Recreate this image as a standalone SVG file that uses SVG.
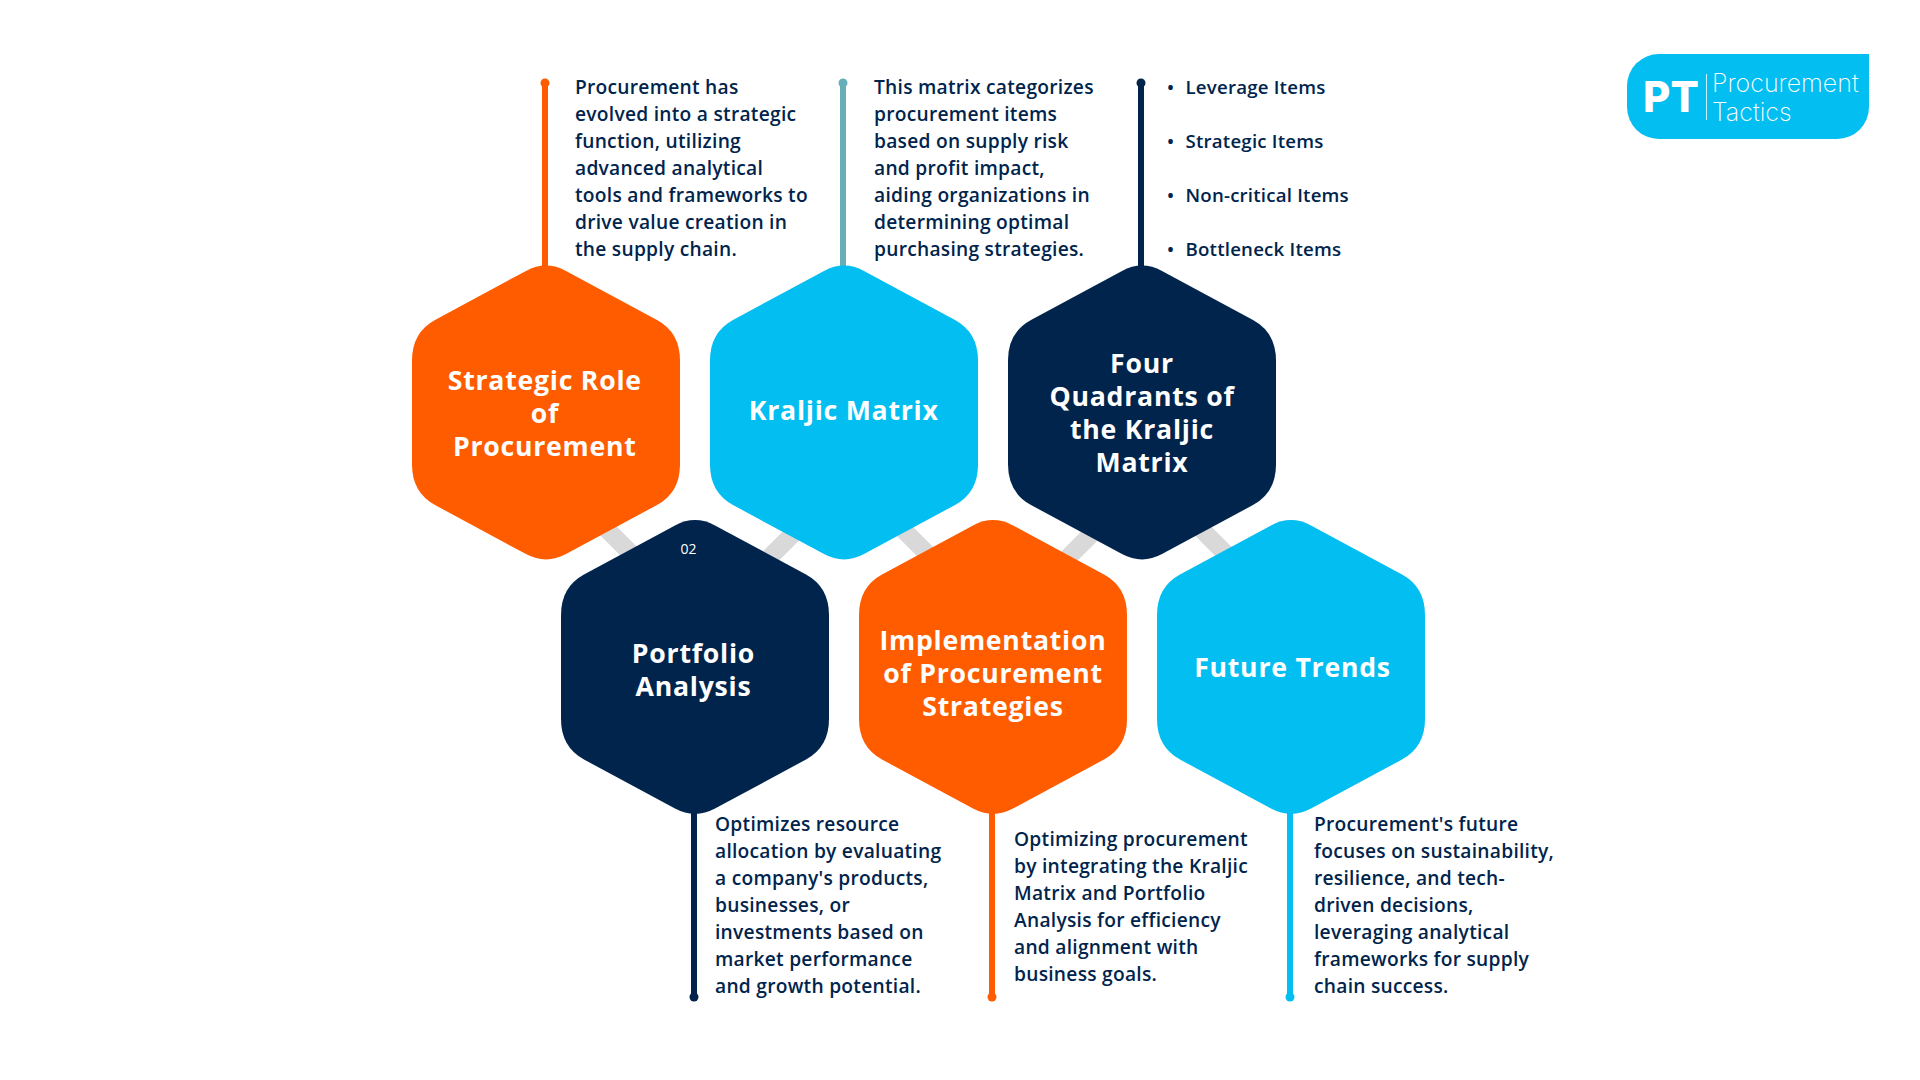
<svg xmlns="http://www.w3.org/2000/svg" width="1920" height="1080" viewBox="0 0 1920 1080">
<style>
.body{font-family:"Open Sans","Noto Sans",sans-serif;font-size:19.2px;font-weight:600;fill:#01244c;letter-spacing:.26px}
.list{font-family:"Open Sans","Noto Sans",sans-serif;font-size:18.67px;font-weight:600;fill:#01244c;letter-spacing:.2px}
.title{font-family:"Open Sans","Noto Sans",sans-serif;font-size:26.67px;font-weight:700;fill:#fff;text-anchor:middle;letter-spacing:.75px}
.stem{stroke-width:6;fill:none}
.link{stroke:#d9d9d9;stroke-width:18;fill:none}
</style>
<defs>
<path id="hex" d="M-20 -141.6 L-111 -92.5 Q-134 -80 -134 -52 L-134 52 Q-134 80 -111 92.5 L-20 141.6 Q0 152.3 20 141.6 L111 92.5 Q134 80 134 52 L134 -52 Q134 -80 111 -92.5 L20 -141.6 Q0 -152.3 -20 -141.6 Z"/>
</defs>
<rect width="1920" height="1080" fill="#fff"/>
<g id="connectors">
<path class="link" d="M604.5 527 L638.5 561"/>
<path class="link" d="M800 527 L766 561"/>
<path class="link" d="M900.5 527 L934.5 561"/>
<path class="link" d="M1098.5 527 L1064.5 561"/>
<path class="link" d="M1199 527 L1233 561"/>
<g class="stem">
<path stroke="#ff5c00" d="M545 83V270"/><path stroke="#67afb8" d="M843 83V270"/><path stroke="#01244c" d="M1141 83V270"/>
<path stroke="#01244c" d="M694 810V997"/><path stroke="#ff5c00" d="M992 810V997"/><path stroke="#02bef1" d="M1290 810V997"/>
</g>
<circle cx="545" cy="83" r="4.5" fill="#ff5c00"/><circle cx="843" cy="83" r="4.5" fill="#67afb8"/><circle cx="1141" cy="83" r="4.5" fill="#01244c"/>
<circle cx="694" cy="997" r="4.5" fill="#01244c"/><circle cx="992" cy="997" r="4.5" fill="#ff5c00"/><circle cx="1290" cy="997" r="4.5" fill="#02bef1"/>
</g>
<g id="node-strategic-role">
<use href="#hex" x="546" y="412.5" fill="#ff5c00"/>
<text class="title" x="544.8" y="390">Strategic Role</text><text class="title" x="544.8" y="423">of</text><text class="title" x="544.8" y="456">Procurement</text>
</g>
<g id="node-kraljic-matrix">
<use href="#hex" x="844" y="412.5" fill="#02bef1"/>
<text class="title" x="843.7" y="420">Kraljic Matrix</text>
</g>
<g id="node-four-quadrants">
<use href="#hex" x="1142" y="412.5" fill="#01244c"/>
<text class="title" x="1142" y="372.5">Four</text><text class="title" x="1142" y="405.5">Quadrants of</text><text class="title" x="1142" y="438.5">the Kraljic</text><text class="title" x="1142" y="471.5">Matrix</text>
</g>
<g id="node-portfolio-analysis">
<use href="#hex" x="695" y="667" fill="#01244c"/>
<text x="688.5" y="554" font-family="'Open Sans',sans-serif" font-size="14" fill="#fff" text-anchor="middle">02</text>
<text class="title" x="693.5" y="663">Portfolio</text><text class="title" x="693.5" y="696">Analysis</text>
</g>
<g id="node-implementation">
<use href="#hex" x="993" y="667" fill="#ff5c00"/>
<text class="title" x="993" y="650">Implementation</text><text class="title" x="993" y="683">of Procurement</text><text class="title" x="993" y="716">Strategies</text>
</g>
<g id="node-future-trends">
<use href="#hex" x="1291" y="667" fill="#02bef1"/>
<text class="title" x="1292.5" y="677">Future Trends</text>
</g>
<g id="desc-strategic" class="body">
<text x="575" y="94">Procurement has</text><text x="575" y="121">evolved into a strategic</text><text x="575" y="148">function, utilizing</text><text x="575" y="175">advanced analytical</text><text x="575" y="202">tools and frameworks to</text><text x="575" y="229">drive value creation in</text><text x="575" y="256">the supply chain.</text>
</g>
<g id="desc-kraljic" class="body">
<text x="874" y="94">This matrix categorizes</text><text x="874" y="121">procurement items</text><text x="874" y="148">based on supply risk</text><text x="874" y="175">and profit impact,</text><text x="874" y="202">aiding organizations in</text><text x="874" y="229">determining optimal</text><text x="874" y="256">purchasing strategies.</text>
</g>
<g id="desc-quadrants" class="list">
<text x="1167" y="94">•</text><text x="1185.5" y="94">Leverage Items</text>
<text x="1167" y="148">•</text><text x="1185.5" y="148">Strategic Items</text>
<text x="1167" y="202">•</text><text x="1185.5" y="202">Non-critical Items</text>
<text x="1167" y="256">•</text><text x="1185.5" y="256">Bottleneck Items</text>
</g>
<g id="desc-portfolio" class="body">
<text x="715" y="831">Optimizes resource</text><text x="715" y="858">allocation by evaluating</text><text x="715" y="885">a company's products,</text><text x="715" y="912">businesses, or</text><text x="715" y="939">investments based on</text><text x="715" y="966">market performance</text><text x="715" y="993">and growth potential.</text>
</g>
<g id="desc-implementation" class="body">
<text x="1014" y="846">Optimizing procurement</text><text x="1014" y="873">by integrating the Kraljic</text><text x="1014" y="900">Matrix and Portfolio</text><text x="1014" y="927">Analysis for efficiency</text><text x="1014" y="954">and alignment with</text><text x="1014" y="981">business goals.</text>
</g>
<g id="desc-future" class="body">
<text x="1314" y="831">Procurement's future</text><text x="1314" y="858">focuses on sustainability,</text><text x="1314" y="885">resilience, and tech-</text><text x="1314" y="912">driven decisions,</text><text x="1314" y="939">leveraging analytical</text><text x="1314" y="966">frameworks for supply</text><text x="1314" y="993">chain success.</text>
</g>
<g id="logo">
<path d="M1869 54V107A32 32 0 0 1 1837 139H1659A32 32 0 0 1 1627 107V86A32 32 0 0 1 1659 54Z" fill="#02bef1"/>
<text x="1643" y="112" font-family="Inter,'Open Sans',sans-serif" font-size="42" font-weight="800" fill="#fff">PT</text>
<rect x="1706" y="74" width="1" height="46" fill="#fff" opacity=".8"/>
<text x="1712" y="92" font-family="Inter,Lato,sans-serif" font-size="25" font-weight="200" fill="#fff">Procurement</text>
<text x="1712" y="121" font-family="Inter,Lato,sans-serif" font-size="25" font-weight="200" fill="#fff">Tactics</text>
</g>
</svg>
